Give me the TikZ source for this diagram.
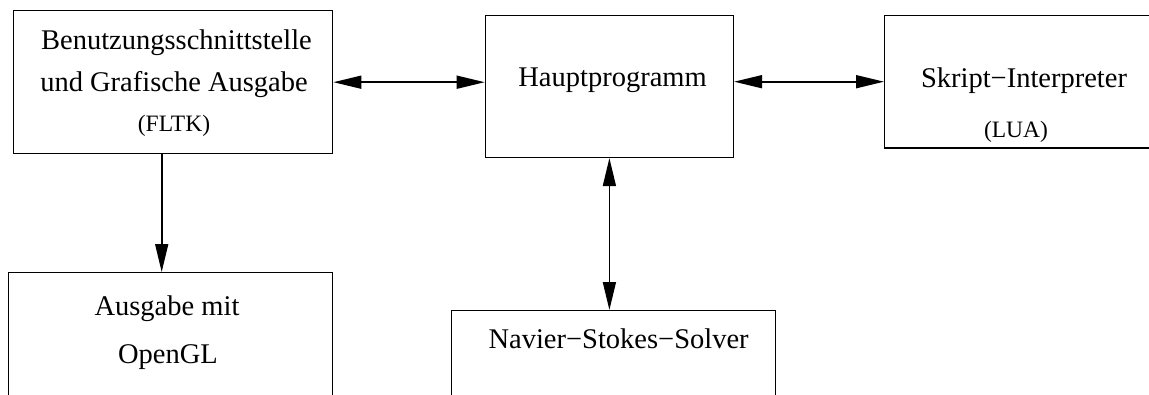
\documentclass[tikz,border=0pt]{standalone}
\usepackage{fontspec}
\setmainfont{Liberation Serif}
\usetikzlibrary{arrows.meta}
\begin{document}
\begin{tikzpicture}[x=1pt,y=-1pt,
  box/.style={draw,line width=1.4pt,rectangle,inner sep=0pt,anchor=north west},
  big/.style={anchor=base,inner sep=0pt,font=\fontsize{28.5}{34}\selectfont},
  small/.style={anchor=base,inner sep=0pt,font=\fontsize{23.5}{28}\selectfont},
  conn/.style={line width=1.6pt,{Triangle[length=28pt,width=13pt]}-{Triangle[length=28pt,width=13pt]}},
  oneway/.style={line width=1.6pt,-{Triangle[length=28pt,width=13pt]}}]
\clip (0,0) rectangle (1149,394);
% boxes
\node[box,minimum width=319pt,minimum height=143pt] (b1) at (13,10) {};
\node[box,minimum width=248pt,minimum height=142pt] (b2) at (484.7,14.7) {};
\node[box,minimum width=290pt,minimum height=132.6pt] (b3) at (884,14.7) {};
\node[box,minimum width=324pt,minimum height=160pt] (b4) at (8,272) {};
\node[box,minimum width=324pt,minimum height=120pt] (b5) at (451,310) {};
% texts
\node[big] (t1a) at (176.5,49) {Benutzungsschnittstelle};
\node[big] (t1b) at (174,91) {und Grafische Ausgabe};
\node[small] (t1c) at (174,131) {(FLTK)};
\node[big] (t2) at (612.6,86) {Hauptprogramm};
\node[big] (t3a) at (1024,87.3) {Skript−Interpreter};
\node[small] (t3b) at (1016,137) {(LUA)};
\node[big] (t4a) at (167,315.7) {Ausgabe mit};
\node[big] (t4b) at (168,363) {OpenGL};
\node[big] (t5) at (618.6,348) {Navier−Stokes−Solver};
% connectors
\draw[conn] (b1.east) -- (b1.east -| b2.west);
\draw[conn] (b2.east |- b3.west) -- (b3.west);
\draw[oneway] ([xshift=-11.5pt]b1.south) -- ([xshift=-11.5pt]b1.south |- b4.north);
\draw[conn] (b2.south) -- (b2.south |- b5.north);
\end{tikzpicture}
\end{document}
